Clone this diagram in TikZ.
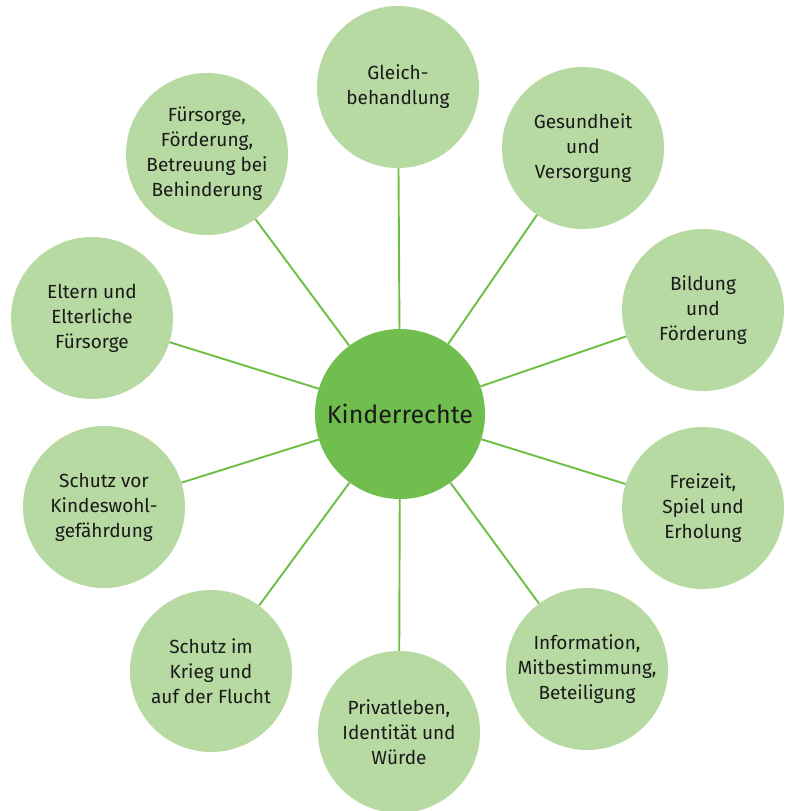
\documentclass[tikz,border=0pt]{standalone}
\usepackage{fontspec}
\setmainfont{Fira Sans}
\definecolor{hellgruen}{HTML}{B7D9A2}
\definecolor{kerngruen}{HTML}{70BF4E}
\definecolor{liniengruen}{HTML}{6DBE45}
\definecolor{schrift}{HTML}{1A1A1A}
\begin{document}
\begin{tikzpicture}[x=1pt,y=-1pt,
    recht/.style={circle,fill=hellgruen,minimum size=162pt,inner sep=0pt,align=center,
      text=schrift,font=\fontsize{19}{25}\selectfont},
    kern/.style={circle,fill=kerngruen,minimum size=170pt,inner sep=0pt,
      text=schrift,font=\fontsize{25}{30}\selectfont},
    verbindung/.style={draw=liniengruen,line width=1.9pt}]
    \useasboundingbox (0,0) rectangle (785,811);
    \node[kern] (mitte) at (400,414) {Kinderrechte};
    \foreach \n/\x/\y/\t in {gleich/398/87/{Gleich-\\behandlung},
      gesundheit/583/148/{Gesundheit\\und\\Versorgung},
      bildung/703/310/{Bildung\\und\\Förderung},
      freizeit/703/508/{Freizeit,\\Spiel und\\Erholung},
      information/587/669/{Information,\\Mitbestimmung,\\Beteiligung},
      privat/399/732/{Privatleben,\\Identität und\\Würde},
      krieg/211/671/{Schutz im\\Krieg und\\auf der Flucht},
      schutz/104/507/{Schutz vor\\Kindeswohl-\\gefährdung},
      eltern/92/318/{Eltern und\\Elterliche\\Fürsorge},
      fuersorge/207/154/{Fürsorge,\\Förderung,\\Betreuung bei\\Behinderung}} {
      \node[recht] (\n) at (\x,\y) {\t};
      \draw[verbindung] (mitte) -- (\n);
    }
\end{tikzpicture}
\end{document}
